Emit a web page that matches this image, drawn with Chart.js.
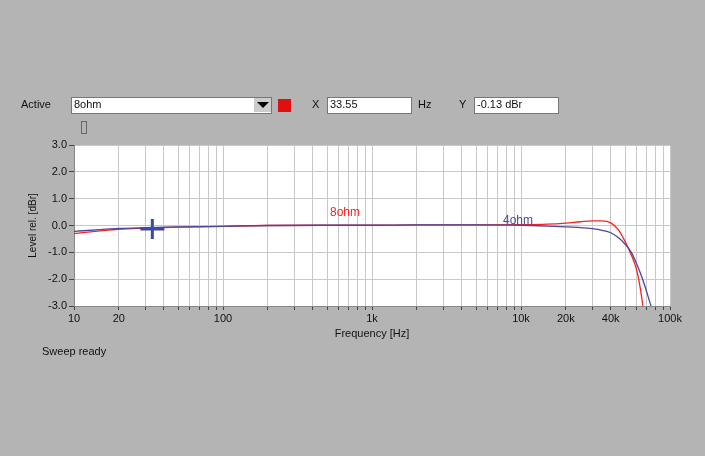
<!DOCTYPE html>
<html><head>
<script src="https://cdn.jsdelivr.net/npm/chart.js@4"></script>
<style>body{margin:0;background:#b4b4b4;overflow:hidden}canvas{position:absolute;left:0;top:0}</style>
</head><body>
<canvas id="c" width="705" height="456"></canvas>
<script>
const freq8 = [10, 15, 20, 30, 50, 100, 200, 500, 1000, 2000, 5000, 10000, 15000, 20000, 25000, 30000, 35000, 40000, 45000, 50000, 55000, 60000, 63000, 66000]
const level8 = [-0.3, -0.2, -0.14, -0.1, -0.06, -0.03, 0, 0.01, 0.01, 0.02, 0.02, 0.03, 0.05, 0.09, 0.14, 0.17, 0.17, 0.1, -0.15, -0.6, -1.1, -1.7, -2.3, -3.05]
const freq4 = [10, 15, 20, 30, 50, 100, 200, 500, 1000, 2000, 5000, 10000, 15000, 20000, 25000, 30000, 35000, 40000, 45000, 50000, 55000, 60000, 65000, 70000, 75000]
const level4 = [-0.22, -0.15, -0.11, -0.08, -0.05, -0.03, 0, 0.01, 0.01, 0.02, 0.02, 0.01, -0.02, -0.05, -0.08, -0.12, -0.18, -0.27, -0.45, -0.7, -1.0, -1.45, -1.95, -2.5, -3.05]
const xTicks = [10,20,30,40,50,60,70,80,90,100,200,300,400,500,600,700,800,900,1000,2000,3000,4000,5000,6000,7000,8000,9000,10000,20000,30000,40000,50000,60000,70000,80000,90000,100000]
const xLabels = {10:'10',20:'20',100:'100',1000:'1k',10000:'10k',20000:'20k',40000:'40k',100000:'100k'}
const yTicks = [-3, -2, -1, 0, 1, 2, 3]

const pts = (f, l) => f.map((x, i) => ({x, y: l[i]}))
const FONT = 'Arial, "Liberation Sans", sans-serif'

const ui = {
  id: 'ui',
  beforeDraw(chart) {
    const c = chart.ctx
    const a = chart.chartArea
    c.save()
    c.fillStyle = '#fff'
    c.fillRect(a.left, a.top, a.right - a.left, a.bottom - a.top)
    c.font = '11px ' + FONT
    c.fillStyle = '#111'
    c.textBaseline = 'middle'
    c.fillText('Active', 21, 105)
    const box = (x, w, t) => {
      c.fillStyle = '#fff'; c.fillRect(x, 97, w, 16)
      c.strokeStyle = '#777'; c.strokeRect(x + 0.5, 97.5, w, 16)
      c.fillStyle = '#111'; c.fillText(t, x + 3, 105)
    }
    box(71, 200, '8ohm')
    c.fillStyle = '#ccc'; c.fillRect(254, 98, 17, 14)
    c.fillStyle = '#000'; c.beginPath(); c.moveTo(257, 102); c.lineTo(269, 102); c.lineTo(263, 108); c.fill()
    c.fillStyle = '#e01010'; c.fillRect(278, 99, 13, 13)
    c.fillStyle = '#111'; c.fillText('X', 312, 105)
    box(327, 84, '33.55')
    c.fillStyle = '#111'; c.fillText('Hz', 418, 105)
    c.fillText('Y', 459, 105)
    box(474, 84, '-0.13 dBr')
    c.strokeStyle = '#666'; c.strokeRect(81.5, 121.5, 5, 12)
    c.fillStyle = '#111'; c.fillText('Sweep ready', 42, 352)
    c.textAlign = 'center'
    c.fillText('Frequency [Hz]', (a.left + a.right) / 2, 334)
    c.translate(33, (a.top + a.bottom) / 2)
    c.rotate(-Math.PI / 2)
    c.font = '10px ' + FONT
    c.fillText('Level rel. [dBr]', 0, 0)
    c.restore()
  },
  afterDatasetsDraw(chart) {
    const c = chart.ctx
    const xs = chart.scales.x, ys = chart.scales.y
    c.save()
    c.font = '12px ' + FONT
    c.fillStyle = '#ff2020'; c.fillText('8ohm', 330, 216)
    c.fillStyle = '#4848a0'; c.fillText('4ohm', 503, 224)
    const cx = xs.getPixelForValue(33.55), cy = ys.getPixelForValue(-0.13)
    c.strokeStyle = '#3a4aa0'; c.lineWidth = 3
    c.beginPath(); c.moveTo(cx - 12, cy); c.lineTo(cx + 12, cy); c.moveTo(cx, cy - 10); c.lineTo(cx, cy + 10); c.stroke()
    c.restore()
  }
}

new Chart(document.getElementById('c'), {
  type: 'line',
  data: {
    datasets: [
      {label: '4ohm', data: pts(freq4, level4), borderColor: '#4848a0', borderWidth: 1.3, pointRadius: 0, cubicInterpolationMode: 'monotone'},
      {label: '8ohm', data: pts(freq8, level8), borderColor: '#ff2020', borderWidth: 1.3, pointRadius: 0, cubicInterpolationMode: 'monotone'}
    ]
  },
  plugins: [ui],
  options: {
    responsive: false, animation: false,
    layout: {padding: {top: 145, right: 35, left: 0, bottom: 0}},
    plugins: {legend: {display: false}, tooltip: {enabled: false}},
    scales: {
      x: {
        type: 'logarithmic', min: 10, max: 100000,
        afterBuildTicks: s => { s.ticks = xTicks.map(v => ({value: v})) },
        afterFit: s => { s.height = 150 },
        ticks: {autoSkip: false, maxRotation: 0, color: '#111', font: {size: 11, family: FONT}, padding: 2, callback: v => xLabels[v] || ''},
        grid: {color: '#c8c8c8', tickLength: 4, tickColor: '#444'},
        border: {color: '#888'}
      },
      y: {
        min: -3, max: 3,
        afterBuildTicks: s => { s.ticks = yTicks.map(v => ({value: v})) },
        afterFit: s => { s.width = 74 },
        ticks: {color: '#111', font: {size: 11, family: FONT}, padding: 2, callback: v => v.toFixed(1)},
        grid: {color: '#c8c8c8', tickLength: 5, tickColor: '#444'},
        border: {color: '#888'}
      }
    }
  }
})
</script>
</body></html>
